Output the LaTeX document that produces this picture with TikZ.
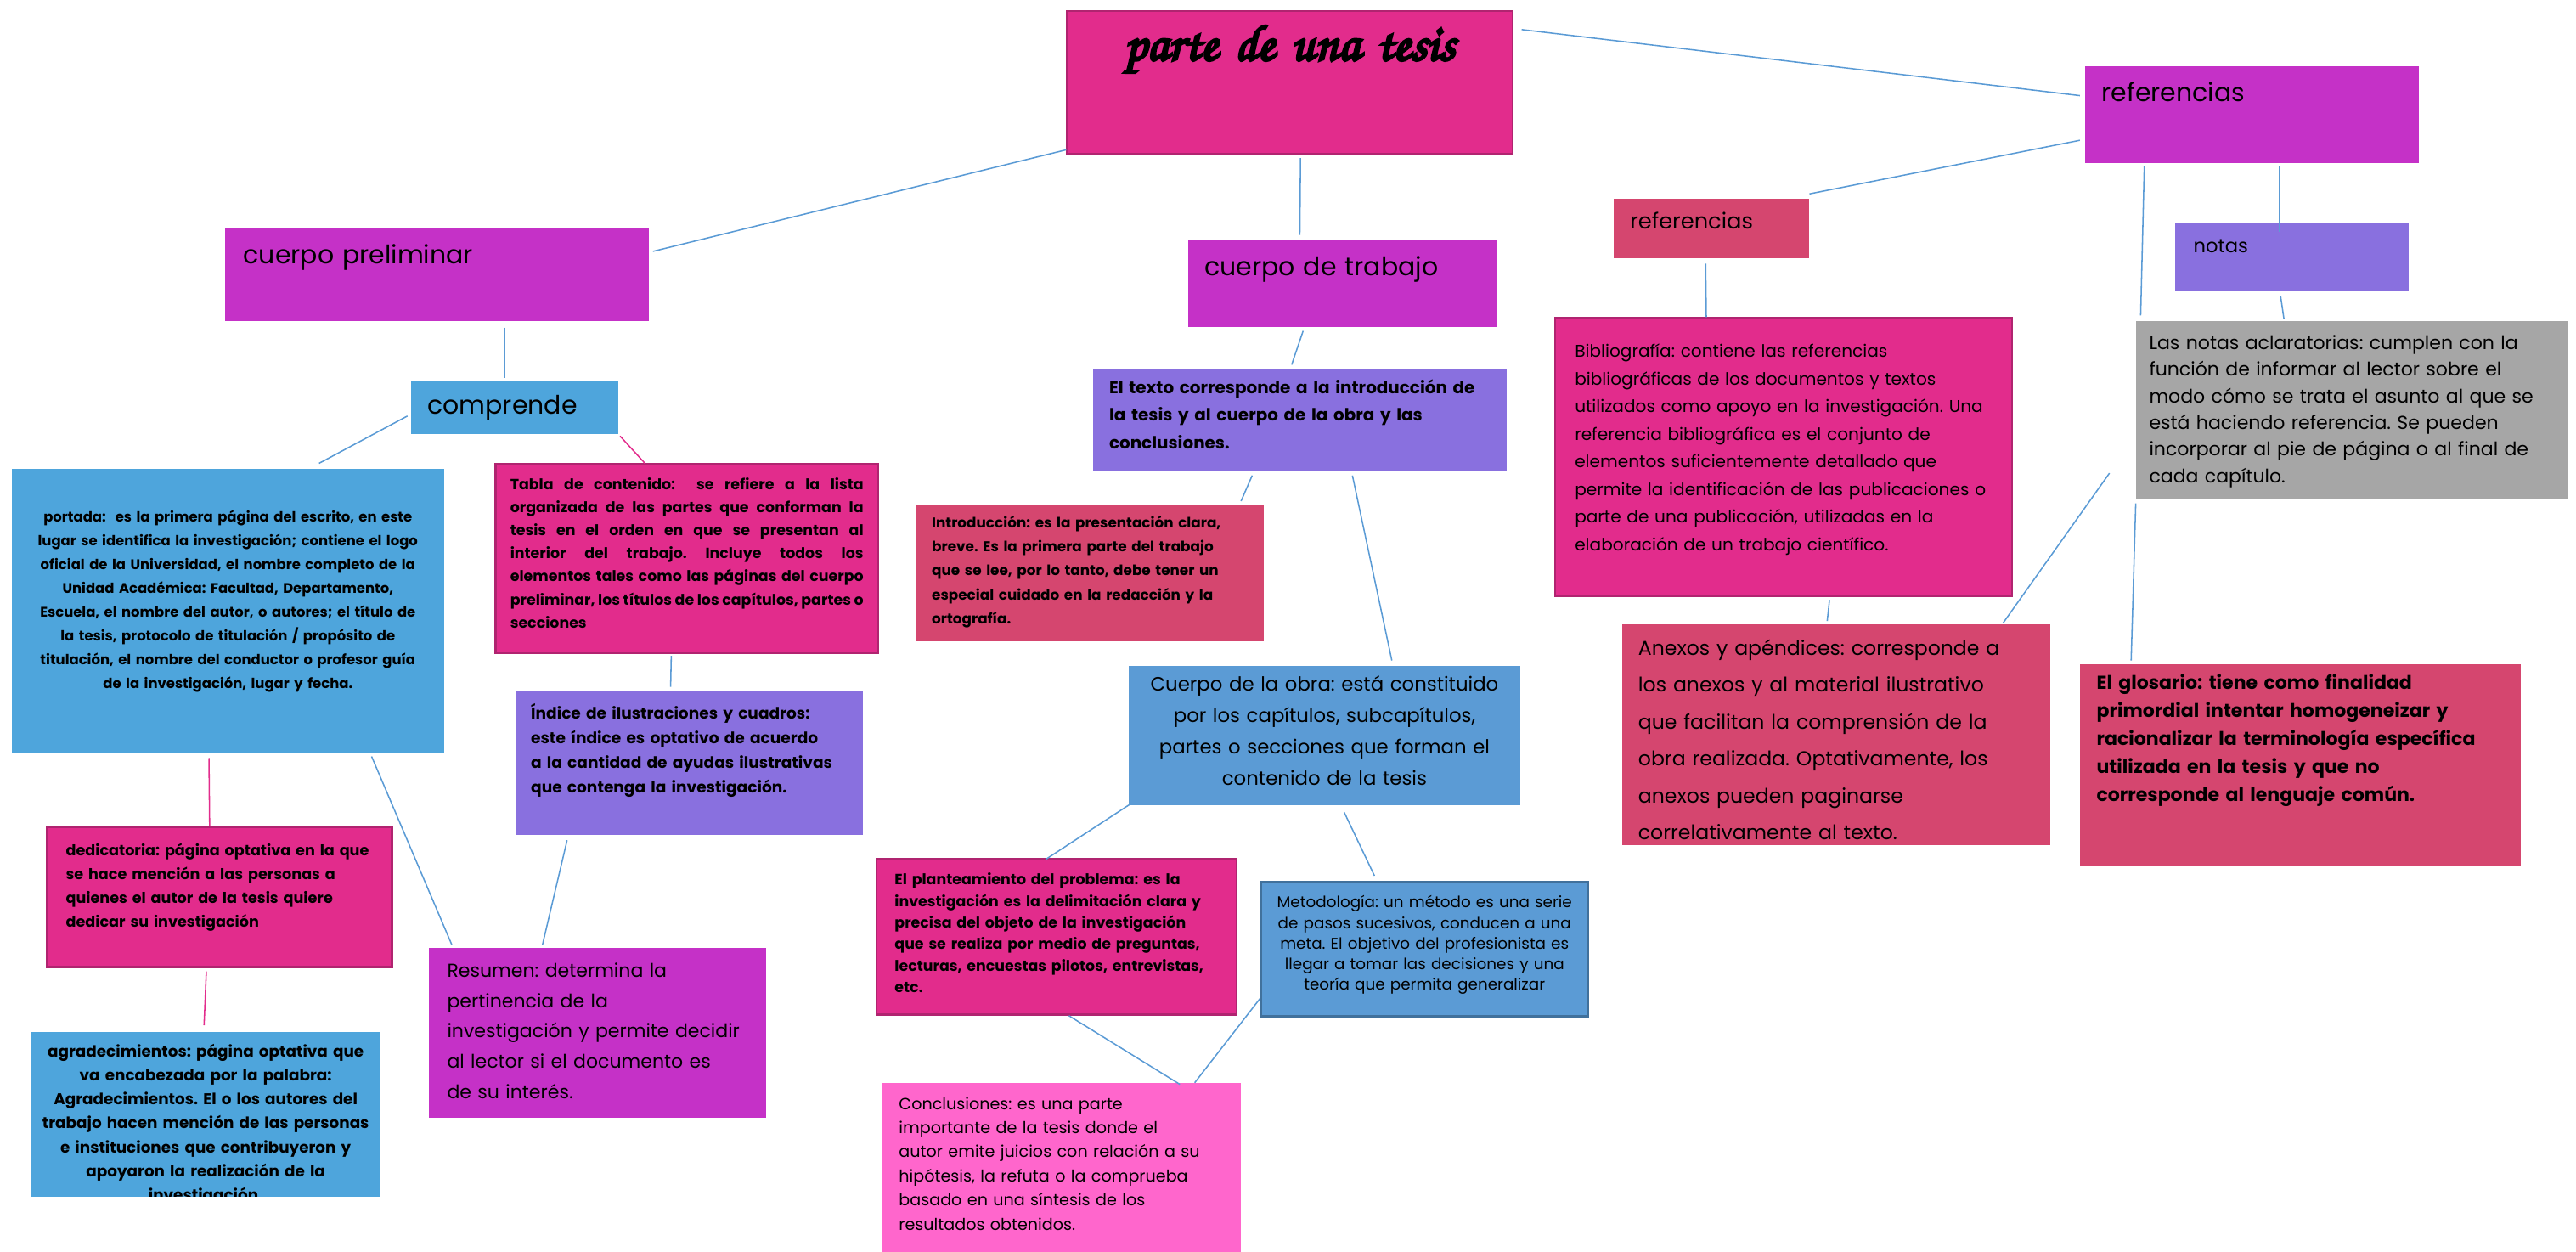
\documentclass[tikz,border=0pt]{standalone}
\usepackage{fontspec}
\setmainfont{Poppins}
\newfontfamily\letratitulo{texgyrechorus-mediumitalic.otf}[FakeBold=5]
\frenchspacing

\definecolor{rosa}{HTML}{E22C8C}
\definecolor{rosaborde}{HTML}{B02470}
\definecolor{morado}{HTML}{C531C7}
\definecolor{azul}{HTML}{4EA5DC}
\definecolor{violeta}{HTML}{8970DF}
\definecolor{carmin}{HTML}{D5466F}
\definecolor{azulobra}{HTML}{5B9BD5}
\definecolor{azulborde}{HTML}{41719C}
\definecolor{rosaclaro}{HTML}{FF66CC}
\definecolor{gris}{HTML}{A6A6A6}
\definecolor{linea}{HTML}{5B9BD5}

\begin{document}
\begin{tikzpicture}[
        x=1pt, y=-1pt, % una unidad = un punto, el eje y hacia abajo
        caja/.style={rectangle, anchor=north west, inner xsep=1pt, inner ysep=0pt}, % caja de texto
        borde/.style={draw=#1, line width=1.2pt}, % borde oscuro
        letra/.style 2 args={font=\fontsize{#1}{#2}\selectfont}, % letra normal
        negrita/.style 2 args={font=\fontsize{#1}{#2}\selectfont\bfseries}, % letra negrita
        conector/.style={draw=linea, line width=0.8pt}, % linea azul
        conectorrosa/.style={draw=rosa, line width=0.8pt} % linea rosa
    ]
    \useasboundingbox (0,0) rectangle (1568,762);

    % titulo
    \node[caja, fill=rosa, borde=rosaborde, minimum width=271pt, text width=268pt, align=center,
          text height=30pt, text depth=57pt, font=\letratitulo\fontsize{31}{31}\selectfont] (tesis) at (649,6) {parte de una tesis};

    % primer nivel
    \node[caja, fill=morado, minimum width=258pt, text width=236pt, align=left,
          text height=21.5pt, text depth=34.5pt, letra={15.5}{19}] (cprelim) at (137,139) {cuerpo preliminar};
    \node[caja, fill=morado, minimum width=188pt, text width=168pt, align=left,
          text height=21.5pt, text depth=31.5pt, letra={15.5}{19}] (ctrabajo) at (723,146) {cuerpo de trabajo};
    \node[caja, fill=morado, minimum width=203pt, text width=183pt, align=left,
          text height=21.5pt, text depth=37.5pt, letra={15.5}{19}] (refs) at (1269,40) {referencias};

    % cuerpo preliminar
    \node[caja, fill=azul, minimum width=126pt, text width=106pt, align=left,
          text height=20pt, text depth=12pt, letra={15.5}{19}] (comprende) at (250,232) {comprende};
    \node[caja, fill=azul, minimum width=263pt, text width=259pt, align=center,
          text height=32.5pt, text depth=140.5pt, negrita={8.5}{14.5}] (portada) at (7,285)
          {portada:~ es la primera página del escrito, en este\\
           lugar se identifica la investigación; contiene el logo\\
           oficial de la Universidad, el nombre completo de la\\
           Unidad Académica: Facultad, Departamento,\\
           Escuela, el nombre del autor, o autores; el título de\\
           la tesis, protocolo de titulación / propósito de\\
           titulación, el nombre del conductor o profesor guía\\
           de la investigación, lugar y fecha.};
    \node[caja, fill=rosa, borde=rosaborde, minimum width=233pt, text width=215pt, align=justify,
          text height=15.5pt, text depth=99.5pt, negrita={9}{14}] (tabla) at (301,282)
          {Tabla de contenido:~ se refiere a la lista\linebreak
           organizada de las partes que conforman la\linebreak
           tesis en el orden en que se presentan al\linebreak
           interior del trabajo. Incluye todos los\linebreak
           elementos tales como las páginas del cuerpo\linebreak
           preliminar, los títulos de los capítulos, partes o\linebreak
           secciones};
    \node[caja, fill=violeta, minimum width=211pt, text width=193pt, align=left,
          text height=17.5pt, text depth=70.5pt, negrita={9.6}{15}] (indice) at (314,420)
          {Índice de ilustraciones y cuadros:\\
           este índice es optativo de acuerdo\\
           a la cantidad de ayudas ilustrativas\\
           que contenga la investigación.};
    \node[caja, fill=rosa, borde=rosaborde, minimum width=210pt, text width=187pt, align=left,
          text height=17pt, text depth=68pt, negrita={9.1}{14.5}] (dedica) at (28,503)
          {dedicatoria: página optativa en la que\\
           se hace mención a las personas a\\
           quienes el autor de la tesis quiere\\
           dedicar su investigación};
    \begin{scope}
        \clip (19,628) rectangle (231,728); % el texto sobrante queda oculto
        \node[caja, fill=azul, minimum width=212pt, text width=208pt, align=center,
              text height=15pt, text depth=85pt, negrita={9.5}{14.6}] (agrad) at (19,628)
              {agradecimientos: página optativa que\\
               va encabezada por la palabra:\\
               Agradecimientos. El o los autores del\\
               trabajo hacen mención de las personas\\
               e instituciones que contribuyeron y\\
               apoyaron la realización de la\\
               investigación.};
    \end{scope}
    \node[caja, fill=morado, minimum width=205pt, text width=183pt, align=left,
          text height=17.5pt, text depth=85.5pt, letra={11.4}{18.5}] (resumen) at (261,577)
          {Resumen: determina la\\
           pertinencia de la\\
           investigación y permite decidir\\
           al lector si el documento es\\
           de su interés.};

    % cuerpo de trabajo
    \node[caja, fill=violeta, minimum width=252pt, text width=232pt, align=left,
          text height=15.5pt, text depth=46.5pt, negrita={10.3}{16.7}] (texto) at (665,224)
          {El texto corresponde a la introducción de\\
           la tesis y al cuerpo de la obra y las\\
           conclusiones.};
    \node[caja, fill=carmin, minimum width=212pt, text width=192pt, align=left,
          text height=14pt, text depth=69pt, negrita={8.7}{14.6}] (intro) at (557,307)
          {Introducción: es la presentación clara,\\
           breve. Es la primera parte del trabajo\\
           que se lee, por lo tanto, debe tener un\\
           especial cuidado en la redacción y la\\
           ortografía.};
    \node[caja, fill=azulobra, minimum width=238pt, text width=234pt, align=center,
          text height=15.5pt, text depth=69.5pt, letra={11.8}{19}] (cobra) at (687,405)
          {Cuerpo de la obra: está constituido\\
           por los capítulos, subcapítulos,\\
           partes o secciones que forman el\\
           contenido de la tesis};
    \node[caja, fill=rosa, borde=rosaborde, minimum width=219pt, text width=197pt, align=left,
          text height=16pt, text depth=79pt, negrita={9}{13.1}] (plantea) at (533,522)
          {El planteamiento del problema: es la\\
           investigación es la delimitación clara y\\
           precisa del objeto de la investigación\\
           que se realiza por medio de preguntas,\\
           lecturas, encuestas pilotos, entrevistas,\\
           etc.};
    \node[caja, fill=azulobra, borde=azulborde, minimum width=199pt, text width=195pt, align=center,
          text height=16pt, text depth=66pt, letra={9.5}{12.5}] (metodo) at (767,536)
          {Metodología: un método es una serie\\
           de pasos sucesivos, conducen a una\\
           meta. El objetivo del profesionista es\\
           llegar a tomar las decisiones y una\\
           teoría que permita generalizar};
    \node[caja, fill=rosaclaro, minimum width=218pt, text width=198pt, align=left,
          text height=16pt, text depth=87pt, letra={9.9}{14.7}] (concl) at (537,659)
          {Conclusiones: es una parte\\
           importante de la tesis donde el\\
           autor emite juicios con relación a su\\
           hipótesis, la refuta o la comprueba\\
           basado en una síntesis de los\\
           resultados obtenidos.};

    % referencias
    \node[caja, fill=carmin, minimum width=119pt, text width=99pt, align=left,
          text height=18pt, text depth=18pt, letra={13.3}{16}] (refpeq) at (982,121) {referencias};
    \node[caja, fill=rosa, borde=rosaborde, minimum width=278pt, text width=254pt, align=left,
          text height=24pt, text depth=145pt, letra={10.4}{16.8}] (biblio) at (946,193)
          {Bibliografía: contiene las referencias\\
           bibliográficas de los documentos y textos\\
           utilizados como apoyo en la investigación. Una\\
           referencia bibliográfica es el conjunto de\\
           elementos suficientemente detallado que\\
           permite la identificación de las publicaciones o\\
           parte de una publicación, utilizadas en la\\
           elaboración de un trabajo científico.};
    \node[caja, fill=carmin, minimum width=261pt, text width=241pt, align=left,
          text height=18.5pt, text depth=115.5pt, letra={12.2}{22.5}] (anexos) at (987,380)
          {Anexos y apéndices: corresponde a\\
           los anexos y al material ilustrativo\\
           que facilitan la comprensión de la\\
           obra realizada. Optativamente, los\\
           anexos pueden paginarse\\
           correlativamente al texto.};
    \node[caja, fill=violeta, minimum width=142pt, text width=120pt, align=left,
          text height=17.5pt, text depth=23.5pt, letra={11.7}{14}] (notas) at (1324,136) {notas};
    \node[caja, fill=gris, minimum width=263pt, text width=247pt, align=left,
          text height=17.5pt, text depth=91.5pt, letra={11.4}{16.2}] (aclara) at (1300,195)
          {Las notas aclaratorias: cumplen con la\\
           función de informar al lector sobre el\\
           modo cómo se trata el asunto al que se\\
           está haciendo referencia. Se pueden\\
           incorporar al pie de página o al final de\\
           cada capítulo.};
    \node[caja, fill=carmin, minimum width=268pt, text width=248pt, align=left,
          text height=15.5pt, text depth=107.5pt, negrita={11.4}{17}] (glosario) at (1266,404)
          {El glosario: tiene como finalidad\\
           primordial intentar homogeneizar y\\
           racionalizar la terminología específica\\
           utilizada en la tesis y que no\\
           corresponde al lenguaje común.};

    \coordinate (suelto) at (1284,288); % extremo libre

    % conectores
    \draw[conector] ([yshift=3pt]tesis.south west) -- ([xshift=2pt,yshift=-14pt]cprelim.north east);
    \draw[conector] ([xshift=6.5pt,yshift=-2pt]tesis.south) -- ([xshift=-26pt,yshift=3pt]ctrabajo.north);
    \draw[conector] ([xshift=5pt,yshift=-12pt]tesis.north east) -- ([xshift=-3pt,yshift=11.5pt]refs.west);

    \draw[conector] ([xshift=41pt,yshift=-4pt]cprelim.south) -- ([xshift=-6pt,yshift=2pt]comprende.north);
    \draw[conector] ([xshift=-2pt,yshift=-5pt]comprende.west) -- ([xshift=55.5pt,yshift=3pt]portada.north);
    \draw[conectorrosa] ([xshift=1pt,yshift=-1pt]comprende.south east) -- ([xshift=-25.5pt]tabla.north);
    \draw[conector] ([xshift=-9.5pt,yshift=-1pt]tabla.south) -- ([xshift=-11.5pt,yshift=2pt]indice.north);
    \draw[conector] ([xshift=-74.5pt,yshift=-3pt]indice.south) -- ([xshift=-33.5pt,yshift=2pt]resumen.north);
    \draw[conector] ([xshift=87.5pt,yshift=-2pt]portada.south) -- ([xshift=14pt,yshift=2pt]resumen.north west);
    \draw[conectorrosa] ([xshift=-11.5pt,yshift=-3pt]portada.south) -- ([xshift=-6pt]dedica.north);
    \draw[conectorrosa] ([xshift=-8pt,yshift=-2pt]dedica.south) -- ([xshift=-1pt,yshift=4pt]agrad.north);

    \draw[conector] ([xshift=-24pt,yshift=-2pt]ctrabajo.south) -- ([xshift=-5pt,yshift=2pt]texto.north);
    \draw[conector] ([xshift=-29pt,yshift=-3pt]texto.south) -- ([xshift=-14pt,yshift=2pt]intro.north east);
    \draw[conector] ([xshift=32pt,yshift=-3pt]texto.south) -- ([xshift=41pt,yshift=3pt]cobra.north);
    \draw[conector] ([xshift=1pt,yshift=1pt]cobra.south west) -- ([xshift=-6.5pt,yshift=-1pt]plantea.north);
    \draw[conector] ([xshift=12pt,yshift=-4pt]cobra.south) -- ([xshift=-30.5pt,yshift=3pt]metodo.north);
    \draw[conector] ([xshift=7.5pt]plantea.south) -- ([xshift=72pt,yshift=-1pt]concl.north);
    \draw[conector] ([yshift=11.5pt]metodo.south west) -- ([xshift=81pt]concl.north);

    \draw[conector] ([xshift=-3pt,yshift=14pt]refs.south west) -- ([yshift=3pt]refpeq.north east);
    \draw[conector] ([xshift=-65.5pt,yshift=-2pt]refs.south) -- ([xshift=3pt,yshift=3pt]aclara.north west);
    \draw[conector] ([xshift=16.5pt,yshift=-2pt]refs.south) -- ([xshift=-8pt,yshift=-5pt]notas.north);
    \draw[conector] ([xshift=-7pt,yshift=-3pt]notas.south) -- ([xshift=-41.5pt,yshift=1pt]aclara.north);
    \draw[conector] ([yshift=-2pt]aclara.south west) -- ([xshift=-103pt,yshift=2pt]glosario.north);
    \draw[conector] ([xshift=-3.5pt,yshift=-3pt]refpeq.south) -- ([xshift=-47pt]biblio.north);
    \draw[conector] ([xshift=28pt,yshift=-2pt]biblio.south) -- ([xshift=-5.5pt,yshift=2pt]anexos.north);
    \draw[conector] ([xshift=-29pt,yshift=1pt]anexos.north east) -- (suelto);
\end{tikzpicture}
\end{document}
